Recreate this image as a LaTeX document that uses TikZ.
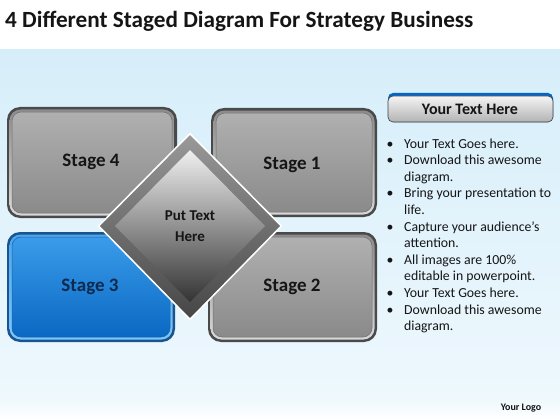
\documentclass[tikz,border=0pt]{standalone}
\usepackage{fontspec}
\setmainfont{Carlito}
\usetikzlibrary{shapes.geometric,calc}
\definecolor{bgA}{HTML}{D6EEFA}
\definecolor{bgB}{HTML}{EEF8FD}
\definecolor{txt}{HTML}{151515}
\definecolor{navy}{HTML}{0C2A50}
\definecolor{gO}{HTML}{4A4A4A}
\definecolor{gR1}{HTML}{8C8C8C}
\definecolor{gR2}{HTML}{D8D8D8}
\definecolor{gT}{HTML}{B0B0B0}
\definecolor{gB}{HTML}{8A8A8A}
\definecolor{gE}{HTML}{707070}
\definecolor{bO}{HTML}{1A5490}
\definecolor{bR1}{HTML}{4CA6EA}
\definecolor{bR2}{HTML}{7CC6FA}
\definecolor{bT}{HTML}{3A9CEA}
\definecolor{bB}{HTML}{0A68C2}
\definecolor{bE}{HTML}{1C60A8}
\newcommand\mystage[8]{% x1 y1 x2 y2 outer rimtop rimbottom prefix
  \fill[rounded corners=13pt,#5] (#1,#2) rectangle (#3,#4);
  \shade[rounded corners=11pt,top color=#6,bottom color=#7] ($(#1,#2)+(2.5,2.5)$) rectangle ($(#3,#4)+(-2.5,-2.5)$);
  \shade[rounded corners=9pt,#8in] ($(#1,#2)+(5,5)$) rectangle ($(#3,#4)+(-5,-5)$);
}
\tikzset{
  grayin/.style={top color=gT, bottom color=gB, draw=gE, line width=0.5pt},
  bluein/.style={top color=bT, bottom color=bB, draw=bE, line width=0.5pt},
  stagetext/.style={font=\bfseries\fontsize{19}{22}\selectfont, text=txt, inner sep=0pt},
  bodytext/.style={font=\fontsize{13.8}{16}\selectfont, text=txt, inner sep=0pt, anchor=base west},
  bul/.style={font=\fontsize{13.8}{16}\selectfont, text=txt, inner sep=0pt, anchor=base}
}
\begin{document}
\begin{tikzpicture}[x=1pt,y=-1pt]
\useasboundingbox (0,0) rectangle (560,420);
\fill[white] (0,0) rectangle (560,420);
\shade[top color=bgA, bottom color=bgB] (0,50) rectangle (560,400);
\shade[top color=bgB, bottom color=white] (0,400) rectangle (560,420);
% title
\node[anchor=base west, inner sep=0pt, font=\bfseries\fontsize{23.2}{28}\selectfont, text=txt] (title) at (5,28) {4 Different Staged Diagram For Strategy Business};
% stage boxes
\mystage{7}{107}{177}{218}{gO}{gR1}{gR2}{gray}
\mystage{211}{108}{377}{217}{gO}{gR1}{gR2}{gray}
\mystage{208}{232}{377}{342}{gO}{gR1}{gR2}{gray}
\mystage{7}{232}{175}{342}{bO}{bR1}{bR2}{blue}
\node[stagetext] (s4) at (91,162) {Stage 4};
\node[stagetext] (s1) at (292,165) {Stage 1};
\node[stagetext, text=navy] (s3) at (90,287) {Stage 3};
\node[stagetext] (s2) at (292,287) {Stage 2};
% diamond
\draw[white, line width=2pt, line join=miter] (190,134) -- (281,226) -- (190,319) -- (99,226) -- cycle;
\shade[top color=gray!80!white, bottom color=gray!55!black] (190,135) -- (280,226) -- (190,318) -- (100,226) -- cycle;
\shade[top color=gray!12!white, middle color=gray!95!white, bottom color=gray!40!black] (190,150) -- (265,226) -- (190,302) -- (115,226) -- cycle;
\node[align=center, font=\bfseries\fontsize{15}{21}\selectfont, text=txt, inner sep=0pt] (center) at (190,226) {Put Text\\Here};
% header
\fill[rounded corners=5pt, blue!50!cyan!80!black] (388,93) rectangle (553,122);
\shade[rounded corners=5pt, top color=gray!8!white, bottom color=gray!60!white, draw=gray!50!black, line width=0.6pt] (388,96) rectangle (553,122);
\node[font=\bfseries\fontsize{16}{19}\selectfont, text=txt, inner sep=0pt] (hdr) at (470,109) {Your Text Here};
% bullets
\foreach \t/\b [count=\i from 0] in {Your Text Goes here./1, Download this awesome/1, diagram./0, Bring your presentation to/1, life./0, {Capture your audience’s}/1, attention./0, All images are 100\%/1, editable in powerpoint./0, Your Text Goes here./1, Download this awesome/1, diagram./0}{
  \node[bodytext] (l\i) at (404,{148+16.6*\i}) {\t};
  \ifnum\b=1 \node[bul] (b\i) at (390,{148+16.6*\i}) {•};\fi
}
\node[font=\bfseries\fontsize{10}{12}\selectfont, text=txt, inner sep=0pt] (logo) at (521,408) {Your Logo};
\end{tikzpicture}
\end{document}
